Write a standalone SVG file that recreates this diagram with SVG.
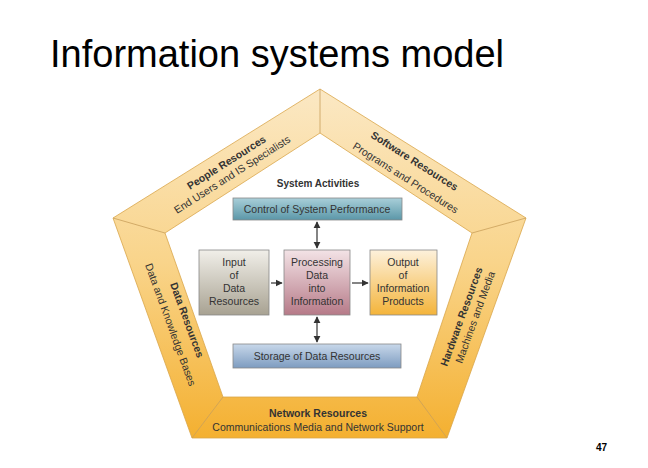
<svg xmlns="http://www.w3.org/2000/svg" width="648" height="468" viewBox="0 0 648 468">
<defs>
<linearGradient id="ring" x1="0" y1="0" x2="0" y2="1"><stop offset="0" stop-color="#fbe8c4"/><stop offset="0.5" stop-color="#f9d48a"/><stop offset="1" stop-color="#f4b030"/></linearGradient>
<linearGradient id="blue" x1="0" y1="0" x2="0" y2="1"><stop offset="0" stop-color="#a9cfd9"/><stop offset="1" stop-color="#5b97a8"/></linearGradient>
<linearGradient id="blue2" x1="0" y1="0" x2="0" y2="1"><stop offset="0" stop-color="#c8d8ea"/><stop offset="1" stop-color="#7d9cc0"/></linearGradient>
<linearGradient id="gray" x1="0" y1="0" x2="0" y2="1"><stop offset="0" stop-color="#f1efe9"/><stop offset="1" stop-color="#a8a292"/></linearGradient>
<linearGradient id="pink" x1="0" y1="0" x2="0" y2="1"><stop offset="0" stop-color="#f3e3e6"/><stop offset="1" stop-color="#b67a88"/></linearGradient>
<linearGradient id="org" x1="0" y1="0" x2="0" y2="1"><stop offset="0" stop-color="#fdf1dc"/><stop offset="1" stop-color="#f4b43a"/></linearGradient>
<marker id="ah" viewBox="0 0 10 10" refX="9" refY="5" markerWidth="6" markerHeight="6" orient="auto-start-reverse"><path d="M0,0 L10,5 L0,10 z" fill="#333"/></marker>
</defs>
<style>
.t{font-family:"Liberation Sans",Arial,sans-serif;fill:#333;}
.b{font-weight:bold;font-size:10.5px;}
.s{font-size:10.5px;}
.bx{stroke:#888;stroke-width:0.8;}
.n{font-size:10.5px;text-anchor:middle;}
.c{stroke:#333;stroke-width:1.2;fill:none;}
</style>
<rect width="648" height="468" fill="#fff"/>
<text x="50" y="67" class="t" style="font-size:38px;fill:#000">Information systems model</text>
<g id="ring">
<path d="M320,89 L526,218 L447,438 L192,438 L113,218 Z M320,133 L165,233 L223,397 L417,397 L472,233 Z" fill="url(#ring)" fill-rule="evenodd" stroke="#d9a64a" stroke-width="0.8"/>
<g stroke="#c9a05a" stroke-width="0.8"><line x1="320" y1="89" x2="320" y2="133"/><line x1="526" y1="218" x2="472" y2="233"/><line x1="447" y1="438" x2="417" y2="397"/><line x1="192" y1="438" x2="223" y2="397"/><line x1="113" y1="218" x2="165" y2="233"/></g>
</g>
<g id="people"><text class="t b" transform="translate(190,190) rotate(-32.5)">People Resources</text><text class="t s" transform="translate(177,214) rotate(-32.5)">End Users and IS Specialists</text></g>
<g id="software"><text class="t b" transform="translate(370,137) rotate(32.5)">Software Resources</text><text class="t s" transform="translate(352,148) rotate(32.5)">Programs and Procedures</text></g>
<g id="data"><text class="t b" transform="translate(170,284) rotate(70)">Data Resources</text><text class="t s" transform="translate(145,265) rotate(70)">Data and Knowledge Bases</text></g>
<g id="hardware"><text class="t b" transform="translate(447,367) rotate(-70)">Hardware Resources</text><text class="t s" transform="translate(462,364) rotate(-70)">Machines and Media</text></g>
<g id="network"><text class="t b" x="318" y="417" text-anchor="middle">Network Resources</text><text class="t s" x="318" y="431" text-anchor="middle">Communications Media and Network Support</text></g>
<text class="t" x="318" y="187" text-anchor="middle" style="font-weight:bold;font-size:10px">System Activities</text>
<g id="control"><rect class="bx" x="233" y="198" width="169" height="22" fill="url(#blue)"/><text class="t n" x="317" y="213">Control of System Performance</text></g>
<g id="input"><rect class="bx" x="199" y="250" width="70" height="65" fill="url(#gray)"/><text class="t n" x="234" y="266">Input</text><text class="t n" x="234" y="279">of</text><text class="t n" x="234" y="292">Data</text><text class="t n" x="234" y="305">Resources</text></g>
<g id="processing"><rect class="bx" x="284" y="250" width="66" height="65" fill="url(#pink)"/><text class="t n" x="317" y="266">Processing</text><text class="t n" x="317" y="279">Data</text><text class="t n" x="317" y="292">into</text><text class="t n" x="317" y="305">Information</text></g>
<g id="output"><rect class="bx" x="370" y="250" width="67" height="65" fill="url(#org)"/><text class="t n" x="403" y="266">Output</text><text class="t n" x="403" y="279">of</text><text class="t n" x="403" y="292">Information</text><text class="t n" x="403" y="305">Products</text></g>
<g id="storage"><rect class="bx" x="233" y="344" width="168" height="24" fill="url(#blue2)"/><text class="t n" x="317" y="360">Storage of Data Resources</text></g>
<g id="connectors">
<line class="c" x1="317" y1="222" x2="317" y2="248" marker-start="url(#ah)" marker-end="url(#ah)"/>
<line class="c" x1="317" y1="317" x2="317" y2="342" marker-start="url(#ah)" marker-end="url(#ah)"/>
<line class="c" x1="271" y1="283" x2="282" y2="283" marker-end="url(#ah)"/>
<line class="c" x1="352" y1="283" x2="368" y2="283" marker-end="url(#ah)"/>
</g>
<text x="596" y="451" class="t" style="font-size:10px;font-weight:bold;fill:#000">47</text>
</svg>
